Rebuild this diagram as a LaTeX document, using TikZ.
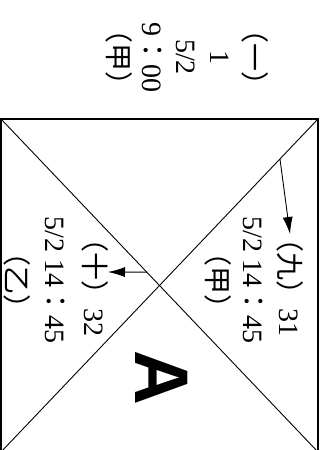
\documentclass[tikz,border=0pt]{standalone}
\usepackage{fontspec}
\setmainfont{Liberation Serif}
\newfontfamily\cjk{Noto Sans CJK TC}
\newfontfamily\sansA{Liberation Sans}
\usetikzlibrary{arrows.meta,calc}
\begin{document}
\begin{tikzpicture}[x=1pt,y=-1pt,
  txt/.style={rotate=-90,align=center,inner sep=0pt,font=\fontsize{28}{36}\selectfont},
  edge/.style={line width=0.9pt},
  arr/.style={line width=0.9pt,-{Latex[length=17pt,width=10pt]}}]
\useasboundingbox (0,0) rectangle (327,450);
\begin{scope}
\clip (0,0) rectangle (327,450);
\coordinate (tl) at (1,119);
\coordinate (tr) at (318,119);
\coordinate (br) at (318,452);
\coordinate (bl) at (1,452);
\draw[line width=1.4pt] (tl) rectangle (br);
\draw[edge] (tl) -- (br);
\draw[edge] (tr) -- (bl);
\end{scope}
\node[txt,font=\fontsize{28}{34}\selectfont] (top) at (187,57) {{\cjk （一）}\\1\\5/2\\9{\cjk ：}00\\{\cjk （甲）}};
\node[txt] (right) at (254,280) {{\cjk （九）}31\\5/2 14{\cjk ：}45\\{\cjk （甲）}};
\node[txt,font=\fontsize{28}{39}\selectfont] (left) at (56,280) {{\cjk （十）}32\\5/2 14{\cjk ：}45\\{\cjk （乙）}};
\node[rotate=-90,inner sep=0pt,font=\sansA\bfseries\fontsize{76}{76}\selectfont] (A) at (162,378) {A};
\coordinate (s1) at ($(tr)!0.12!(bl)$);
\coordinate (e1) at (290,234);
\coordinate (s2) at ($(tl)!0.46!(br)$);
\coordinate (e2) at (108,272);
\draw[arr] (s1) -- (e1);
\draw[arr] (s2) -- (e2);
\end{tikzpicture}
\end{document}
